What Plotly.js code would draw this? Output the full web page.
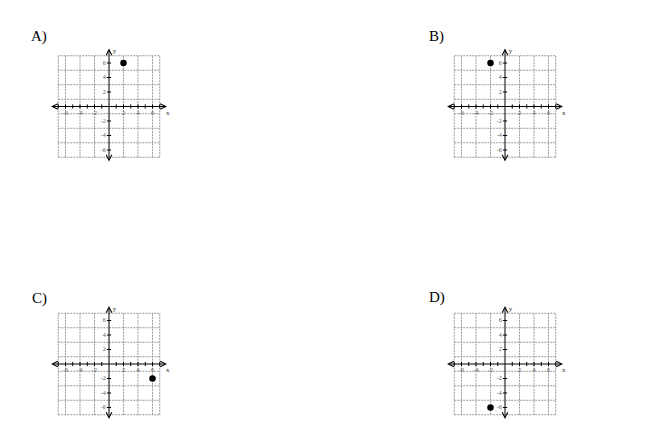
<!DOCTYPE html>
<html>
<head>
<meta charset="utf-8">
<script src="https://cdn.plot.ly/plotly-3.0.1.min.js"></script>
<style>
  html, body { margin: 0; padding: 0; background: #fff; }
  #myDiv { width: 650px; height: 448px; }
</style>
</head>
<body>
<div id="myDiv"></div>
<script>
// answer choices and the plotted point of each
var panels = ['A)', 'B)', 'C)', 'D)'];
var pointX = [2, -2, 6, -2];
var pointY = [6, 6, -2, -6];

// grid lines (vertical at even x, horizontal at odd y, box at +-7)
var gridX = [-7, -6, -4, -2, 2, 4, 6, 7];
var gridY = [-7, -5, -3, -1, 1, 3, 5, 7];
var gridMin = -7, gridMax = 7;

// ticks and their labels
var xTicks = [-7, -6, -5, -4, -3, -2, -1, 1, 2, 3, 4, 5, 6, 7];
var yTicks = [-6, -4, -2, 2, 4, 6];
var tickLabels = [-6, -4, -2, 2, 4, 6];

// axis arrow ends
var xAxisEnds = [-8.2, 8];
var yAxisEnds = [-7.8, 8];

// panel placement, pixel centre of the origin
var W = 650, H = 448;
var origins = [[109, 106.5], [505, 106.5], [109, 364], [505, 364]];
var pxPerUnit = 7.25;
var span = 9;
var labelPos = [[29, 37], [427, 37], [30, 298], [427, 297]];

var data = [];
var layout = {
  width: W, height: H,
  margin: {l: 0, r: 0, t: 0, b: 0},
  paper_bgcolor: '#fff', plot_bgcolor: 'rgba(0,0,0,0)',
  showlegend: false,
  shapes: [], annotations: []
};

var gridLine = {color: '#999999', width: 1, dash: '2px,1px'};
var tickFont = {family: 'Liberation Serif, serif', size: 6, color: '#555'};

for (var p = 0; p < panels.length; p++) {
  var n = p === 0 ? '' : String(p + 1);
  var xr = 'x' + n, yr = 'y' + n;
  var cx = origins[p][0], cy = origins[p][1];
  var half = span * pxPerUnit;

  layout['xaxis' + n] = {
    domain: [(cx - half) / W, (cx + half) / W], range: [-span, span],
    anchor: yr, showgrid: false, zeroline: false, showticklabels: false,
    ticks: '', showline: false, fixedrange: true
  };
  layout['yaxis' + n] = {
    domain: [1 - (cy + half) / H, 1 - (cy - half) / H], range: [-span, span],
    anchor: xr, showgrid: false, zeroline: false, showticklabels: false,
    ticks: '', showline: false, fixedrange: true
  };

  // grid
  gridX.forEach(function (gx) {
    layout.shapes.push({type: 'line', xref: xr, yref: yr, x0: gx, x1: gx,
      y0: gridMin, y1: gridMax, line: gridLine, layer: 'below'});
  });
  gridY.forEach(function (gy) {
    layout.shapes.push({type: 'line', xref: xr, yref: yr, x0: gridMin, x1: gridMax,
      y0: gy, y1: gy, line: gridLine, layer: 'below'});
  });

  // axes with arrows
  layout.annotations.push({xref: xr, yref: yr, axref: xr, ayref: yr,
    x: xAxisEnds[1], y: 0, ax: xAxisEnds[0], ay: 0, text: '', showarrow: true,
    arrowside: 'end+start', arrowhead: 5, startarrowhead: 5, arrowsize: 1.1,
    startarrowsize: 1.1, arrowwidth: 1, arrowcolor: '#000'});
  layout.annotations.push({xref: xr, yref: yr, axref: xr, ayref: yr,
    x: 0, y: yAxisEnds[1], ax: 0, ay: yAxisEnds[0], text: '', showarrow: true,
    arrowside: 'end+start', arrowhead: 5, startarrowhead: 5, arrowsize: 1.1,
    startarrowsize: 1.1, arrowwidth: 1, arrowcolor: '#000'});

  // tick marks
  data.push({type: 'scatter', mode: 'markers', xaxis: xr, yaxis: yr,
    x: xTicks, y: xTicks.map(function () { return 0; }), hoverinfo: 'skip',
    marker: {symbol: 'line-ns', size: 3, color: '#000', line: {width: 1, color: '#000'}}, cliponaxis: false});
  data.push({type: 'scatter', mode: 'markers', xaxis: xr, yaxis: yr,
    x: yTicks.map(function () { return 0; }), y: yTicks, hoverinfo: 'skip',
    marker: {symbol: 'line-ew', size: 3, color: '#000', line: {width: 1, color: '#000'}}, cliponaxis: false});

  // tick labels
  data.push({type: 'scatter', mode: 'text', xaxis: xr, yaxis: yr,
    x: tickLabels, y: tickLabels.map(function () { return -0.95; }),
    text: tickLabels.map(String), textposition: 'middle center', hoverinfo: 'skip',
    textfont: tickFont, cliponaxis: false});
  data.push({type: 'scatter', mode: 'text', xaxis: xr, yaxis: yr,
    x: tickLabels.map(function () { return -0.45; }), y: tickLabels,
    text: tickLabels.map(String), textposition: 'middle left', hoverinfo: 'skip',
    textfont: tickFont, cliponaxis: false});

  // axis names
  data.push({type: 'scatter', mode: 'text', xaxis: xr, yaxis: yr,
    x: [8.1, 0.75], y: [-0.9, 7.6], text: ['x', 'y'], textposition: 'middle center',
    hoverinfo: 'skip', cliponaxis: false,
    textfont: {family: 'Liberation Serif, serif', size: 7, color: '#333'}});

  // the point
  data.push({type: 'scatter', mode: 'markers', xaxis: xr, yaxis: yr,
    x: [pointX[p]], y: [pointY[p]], hoverinfo: 'skip', cliponaxis: false,
    marker: {size: 6.5, color: '#000'}});

  // panel label
  layout.annotations.push({xref: 'paper', yref: 'paper',
    x: labelPos[p][0] / W, y: 1 - labelPos[p][1] / H, xanchor: 'left', yanchor: 'middle',
    text: panels[p], showarrow: false,
    font: {family: 'Liberation Serif, serif', size: 15, color: '#000'}});
}

Plotly.newPlot('myDiv', data, layout, {displayModeBar: false, staticPlot: true});
</script>
</body>
</html>
